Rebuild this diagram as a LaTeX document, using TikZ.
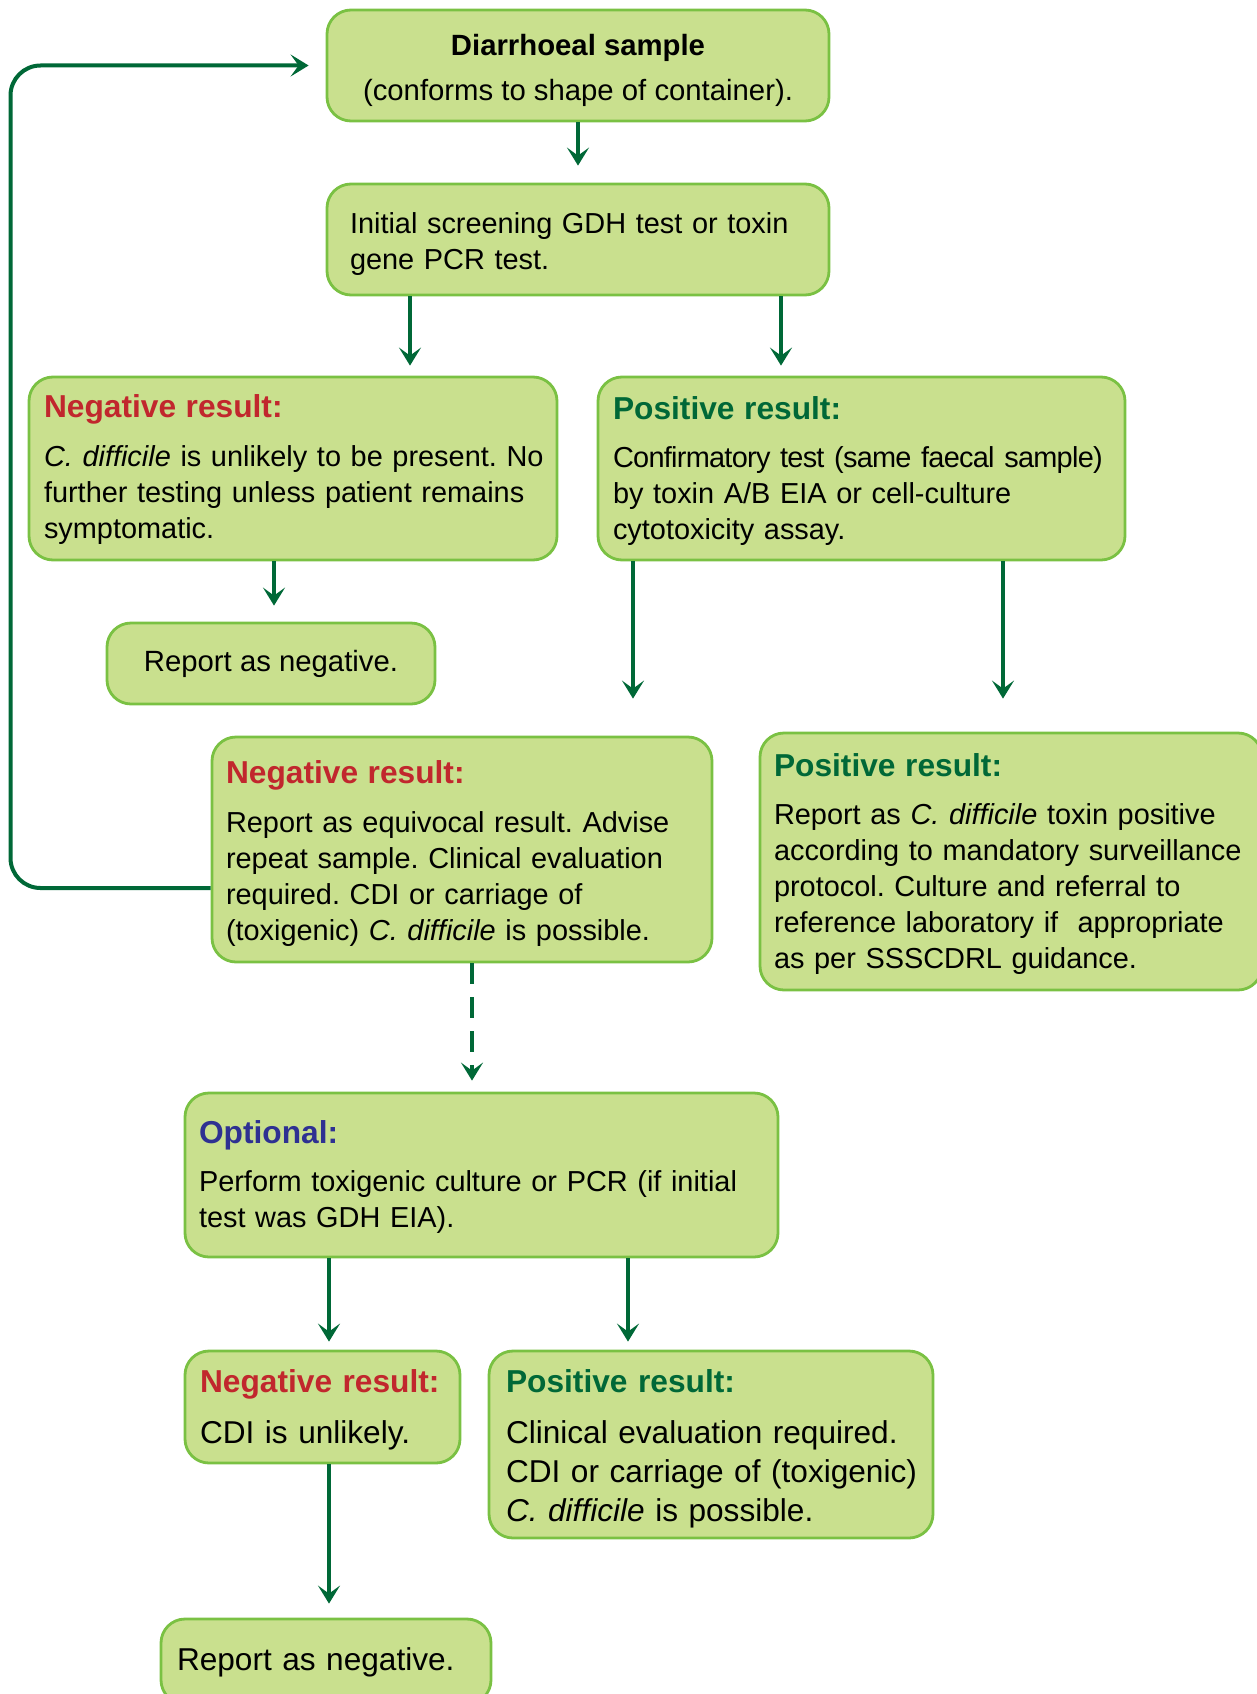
\documentclass[tikz,border=0pt]{standalone}
\usepackage{fontspec}
\setmainfont{Liberation Sans}
\usetikzlibrary{arrows.meta,calc}
\definecolor{boxfill}{RGB}{201,224,142}
\definecolor{boxborder}{RGB}{122,193,67}
\definecolor{arrowgreen}{RGB}{0,104,55}
\definecolor{negred}{RGB}{193,39,45}
\definecolor{posgreen}{RGB}{0,104,55}
\definecolor{optblue}{RGB}{46,49,146}
\frenchspacing
\newcommand\ttl[2]{{\fontsize{31.7pt}{36pt}\selectfont\bfseries\color{#1}#2}}
\newcommand\lns[2][4pt]{\raisebox{-#1}[\height][\depth]{\begin{tabular}{@{}l@{}}#2\end{tabular}}}
\newcommand\clns[2][4pt]{\raisebox{-#1}[\height][\depth]{\begin{tabular}{@{}c@{}}#2\end{tabular}}}
\begin{document}
\begin{tikzpicture}[x=1pt,y=-1pt,
  box/.style={draw=boxborder, fill=boxfill, line width=2.8pt, rounded corners=24pt,
    inner xsep=15pt, inner ysep=0pt, align=left, text=black,
    font=\fontsize{28.9pt}{36pt}\selectfont},
  bigbox/.style={box, font=\fontsize{31.6pt}{39pt}\selectfont},
  arr/.style={draw=arrowgreen, line width=4pt,
    -{Stealth[length=18pt,width=22pt,inset=8pt]}},
  dasharr/.style={arr, dash pattern=on 21pt off 13pt}
]
\useasboundingbox (0,0) rectangle (1256,1694);

% boxes
\node[box, align=center, font=\fontsize{29.3pt}{36pt}\selectfont, minimum width=502pt, minimum height=111pt] (b1) at (578,65.5)
  {\clns[5pt]{\textbf{Diarrhoeal sample}\\[9pt](conforms to shape of container).}};
\node[box, inner xsep=23pt, text width=456pt, minimum width=502pt, minimum height=111pt] (b2) at (578,239.5)
  {\lns[5pt]{Initial screening GDH test or toxin\\gene PCR test.}};
\node[box, text width=498pt, minimum width=528pt, minimum height=183pt] (b3) at (293,468.5)
  {\lns[2pt]{\ttl{negred}{Negative result:}\\[13pt]
   \textit{C. difficile} is unlikely to be present. No\\
   further testing unless patient remains\\
   symptomatic.}};
\node[box, text width=497pt, minimum width=527pt, minimum height=183pt] (b4) at (861.5,468.5)
  {\lns[4pt]{\ttl{posgreen}{Positive result:}\\[12pt]
   {\addfontfeatures{LetterSpace=-2.5}Confirmatory test (same faecal sample)}\\
   by toxin A/B EIA or cell-culture\\
   cytotoxicity assay.}};
\node[box, align=center, font=\fontsize{29.3pt}{36pt}\selectfont, minimum width=328pt, minimum height=81pt] (r1) at (271,663.5)
  {Report as negative.};
\node[box, text width=472pt, inner xsep=14pt, minimum width=500pt, minimum height=225pt] (b5) at (462,849.5)
  {\lns[5pt]{\ttl{negred}{Negative result:}\\[13pt]
   Report as equivocal result. Advise\\
   repeat sample. Clinical evaluation\\
   required. CDI or carriage of\\
   (toxigenic) \textit{C. difficile} is possible.}};
\node[box, text width=474pt, inner xsep=14pt, minimum width=502pt, minimum height=257pt] (b6) at (1011,861.5)
  {\lns[4pt]{\ttl{posgreen}{Positive result:}\\[12pt]
   Report as \textit{C. difficile} toxin positive\\
   according to mandatory surveillance\\
   protocol. Culture and referral to\\
   reference laboratory if\ \ appropriate\\
   as per SSSCDRL guidance.}};
\node[box, text width=565pt, inner xsep=14pt, minimum width=593pt, minimum height=164pt] (b7) at (481.5,1175)
  {\lns[3pt]{\ttl{optblue}{Optional:}\\[12pt]
   Perform toxigenic culture or PCR (if initial\\
   test was GDH EIA).}};
\node[bigbox, text width=245pt, minimum width=275pt, minimum height=112pt] (b8) at (322.5,1407)
  {\lns[3pt]{\ttl{negred}{Negative result:}\\[12pt]
   CDI is unlikely.}};
\node[bigbox, text width=410pt, inner xsep=17pt, minimum width=444pt, minimum height=187pt] (b9) at (711,1444.5)
  {\lns[5pt]{\ttl{posgreen}{Positive result:}\\[12pt]
   Clinical evaluation required.\\
   CDI or carriage of (toxigenic)\\
   \textit{C. difficile} is possible.}};
\node[bigbox, text width=298pt, inner xsep=16pt, minimum width=330pt, minimum height=85pt] (r2) at (326,1661.5)
  {\lns[1pt]{Report as negative.}};

% connectors
\draw[arr, shorten >=17pt] (b1.south) -- (b2.north);
\draw[arr, shorten >=10pt] ([xshift=-168pt]b2.south) -- ([xshift=-168pt]b2.south |- b3.north);
\draw[arr, shorten >=10pt] ([xshift=203pt]b2.south) -- ([xshift=203pt]b2.south |- b4.north);
\draw[arr, shorten >=16pt] ([xshift=-19pt]b3.south) -- ([xshift=-19pt]b3.south |- r1.north);
\draw[arr, shorten >=37pt] ([xshift=-228.5pt]b4.south) -- ([xshift=-228.5pt]b4.south |- b5.north);
\draw[arr, shorten >=33pt] ([xshift=141.5pt]b4.south) -- ([xshift=141.5pt]b4.south |- b6.north);
\draw[dasharr, shorten >=11pt] ([xshift=10pt]b5.south) -- ([xshift=10pt]b5.south |- b7.north);
\draw[arr, shorten >=8pt] ([xshift=-152.5pt]b7.south) -- ([xshift=-152.5pt]b7.south |- b8.north);
\draw[arr, shorten >=8pt] ([xshift=146.5pt]b7.south) -- ([xshift=146.5pt]b7.south |- b9.north);
\draw[arr, shorten >=14pt] ([xshift=6.5pt]b8.south) -- ([xshift=6.5pt]b8.south |- r2.north);

% feedback loop
\coordinate (loopL) at (10.5,0);
\draw[arr, rounded corners=30pt, shorten >=17pt]
  ([yshift=-38.5pt]b5.west) -| (loopL |- b1.west) -- (b1.west);
\end{tikzpicture}
\end{document}
